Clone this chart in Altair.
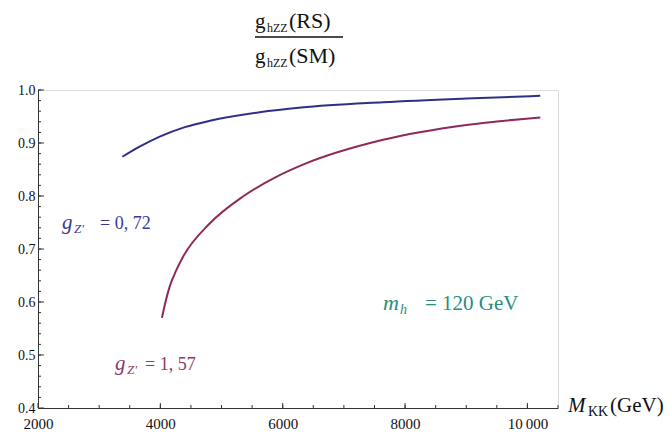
import altair as alt
import pandas as pd
import numpy as np

# ---- data ----
blue_x = [3380, 3660, 3990, 4400, 4810, 5620, 6300, 7640, 9000, 10210]
blue_y = [0.874, 0.893, 0.912, 0.930, 0.942, 0.958, 0.967, 0.977, 0.984, 0.989]

red_x = [4026, 4073, 4152, 4261, 4369, 4806, 5350, 5895, 6350, 7640, 9000, 10210]
red_y = [0.570, 0.595, 0.629, 0.660, 0.685, 0.748, 0.799, 0.836, 0.860, 0.906, 0.934, 0.948]

series_names = ["g_Z' = 0.72", "g_Z' = 1.57"]
x_tick_labels = [2000, 4000, 6000, 8000, 10000]
y_tick_labels = [0.4, 0.5, 0.6, 0.7, 0.8, 0.9, 1.0]
x_minor = list(np.arange(2500, 10501, 500))
y_minor = list(np.round(np.arange(0.42, 1.0, 0.02), 2))

df = pd.concat([
    pd.DataFrame({"M": blue_x, "r": blue_y, "s": series_names[0]}),
    pd.DataFrame({"M": red_x, "r": red_y, "s": series_names[1]}),
])

W, H = 520, 318
BLUE = "#2f2f87"
RED = "#8e2a5a"
NAVY_T = "#3b3b8c"
MAROON_T = "#8c3a68"
TEAL_T = "#2a8c80"
SERIF = "Liberation Serif"

xs = alt.Scale(domain=[2000, 10500], nice=False, zero=False)
ys = alt.Scale(domain=[0.4, 1.0], nice=False, zero=False)

x_axis = alt.Axis(
    values=x_tick_labels, ticks=False, grid=False, title=None,
    labelFlush=False, labelPadding=8, labelFont=SERIF, labelFontSize=15,
    labelColor="#111", domainColor="#333", format="d",
    labelExpr="datum.value == 10000 ? '10\u2009000' : datum.label")
y_axis = alt.Axis(
    values=y_tick_labels, ticks=False, grid=False, title=None,
    labelFlush=False, labelPadding=3, labelFont=SERIF, labelFontSize=14,
    labelColor="#111", domainColor="#333", format=".1f")

lines = alt.Chart(df).mark_line(strokeWidth=2, interpolate="monotone").encode(
    x=alt.X("M:Q", scale=xs, axis=x_axis),
    y=alt.Y("r:Q", scale=ys, axis=y_axis),
    color=alt.Color("s:N", scale=alt.Scale(domain=series_names, range=[BLUE, RED]), legend=None),
    detail="s:N",
)

def yticks(vals, length):
    return alt.Chart(pd.DataFrame({"v": vals})).mark_rule(color="#333", strokeWidth=1).encode(
        y=alt.Y("v:Q", scale=ys, axis=y_axis), x=alt.value(0), x2=alt.value(length))

def xticks(vals, length):
    return alt.Chart(pd.DataFrame({"v": vals})).mark_rule(color="#333", strokeWidth=1).encode(
        x=alt.X("v:Q", scale=xs, axis=x_axis), y=alt.value(H), y2=alt.value(H - length))

one = pd.DataFrame({"k": [0]})

def txt(s, x, y, size, color, italic=False):
    return alt.Chart(one).mark_text(
        text=s, align="left", baseline="alphabetic", font=SERIF, fontSize=size,
        fontStyle="italic" if italic else "normal", color=color,
    ).encode(x=alt.value(x), y=alt.value(y))

texts = [
    # title fraction
    txt("g", 217, -62, 21, "#111"),
    txt("hZZ", 229, -58, 12, "#111"),
    txt("(RS)", 251, -62, 22, "#111"),
    txt("g", 217, -27, 21, "#111"),
    txt("hZZ", 229, -23, 12, "#111"),
    txt("(SM)", 251, -27, 22, "#111"),
    # x axis title
    txt("M", 530, 322, 21, "#111", True),
    txt("KK", 550, 326, 14, "#111"),
    txt("(GeV)", 572, 322, 21, "#111"),
    # annotations
    txt("g", 24, 139, 21, NAVY_T, True),
    txt("Z′", 36, 143, 13, NAVY_T, True),
    txt("= 0, 72", 62, 139, 18, NAVY_T),
    txt("g", 77, 280, 21, MAROON_T, True),
    txt("Z′", 89, 284, 13, MAROON_T, True),
    txt("= 1, 57", 107, 280, 18, MAROON_T),
    txt("m", 345, 220, 22, TEAL_T, True),
    txt("h", 362, 224, 14, TEAL_T, True),
    txt("= 120 GeV", 387, 220, 21, TEAL_T),
]

frac = alt.Chart(one).mark_rule(color="#111", strokeWidth=1.3).encode(
    x=alt.value(217), x2=alt.value(305), y=alt.value(-53))

chart = alt.layer(
    lines,
    yticks(y_tick_labels, 6), yticks(y_minor, 3),
    xticks(x_tick_labels, 5), xticks(x_minor, 3),
    frac, *texts,
).properties(
    width=W, height=H,
    padding={"left": 38, "top": 90, "right": 114, "bottom": 26},
    autosize=alt.AutoSizeParams(type="none"),
).configure_view(stroke=None).configure(background="white")

chart.save("out.html", embed_options={"renderer": "svg", "actions": False})
